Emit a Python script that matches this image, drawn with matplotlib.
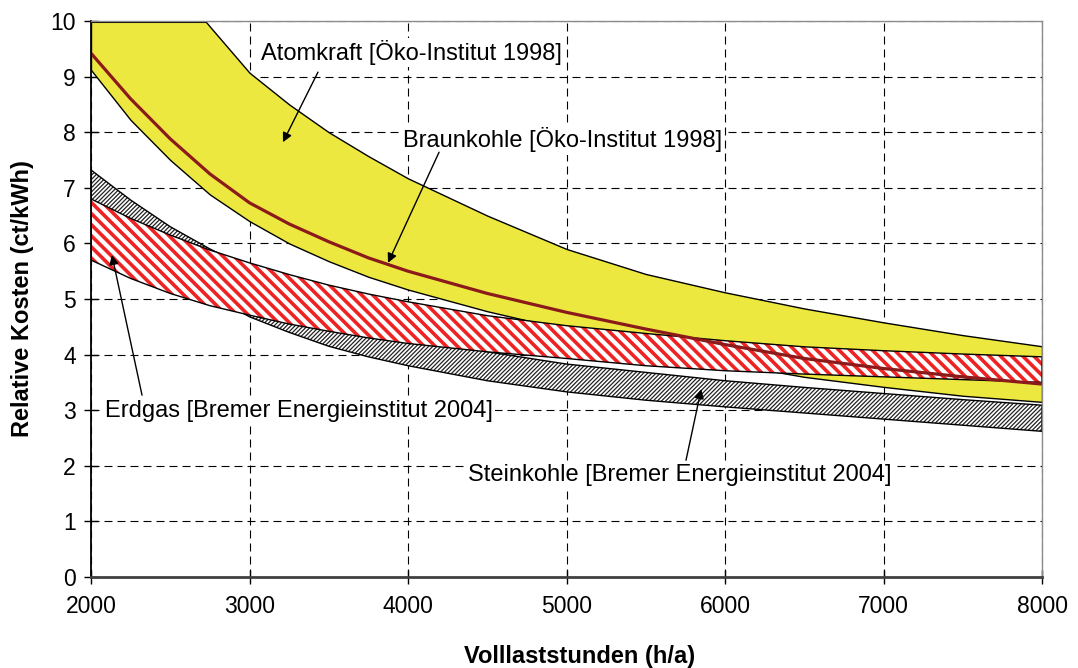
import matplotlib
matplotlib.use("Agg")
import matplotlib as mpl
import matplotlib.pyplot as plt
import numpy as np

plt.rcParams['font.family'] = ['Liberation Sans', 'DejaVu Sans']

# ---- data ----
hours = [2000, 2250, 2500, 2750, 3000, 3250, 3500, 3750, 4000,
         4500, 5000, 5500, 6000, 6500, 7000, 7500, 8000]
atom_upper = [13.0, 11.9, 10.75, 9.9, 9.07, 8.5, 8.0, 7.57, 7.17,
              6.5, 5.9, 5.45, 5.12, 4.83, 4.58, 4.35, 4.15]
atom_lower = [9.12, 8.22, 7.5, 6.88, 6.4, 6.0, 5.68, 5.4, 5.17,
              4.78, 4.45, 4.15, 3.85, 3.6, 3.42, 3.26, 3.15]
braunkohle = [9.42, 8.6, 7.88, 7.25, 6.73, 6.35, 6.03, 5.74, 5.5,
              5.1, 4.76, 4.46, 4.18, 3.93, 3.75, 3.6, 3.47]
erdgas_upper = [6.8, 6.45, 6.15, 5.88, 5.65, 5.44, 5.25, 5.09, 4.95,
                4.7, 4.52, 4.38, 4.25, 4.14, 4.07, 4.01, 3.96]
erdgas_lower = [5.70, 5.37, 5.1, 4.88, 4.71, 4.55, 4.42, 4.3, 4.2,
                4.05, 3.93, 3.8, 3.71, 3.65, 3.6, 3.55, 3.5]
stein_upper = [7.32, 6.78, 6.3, 5.9, 5.55, 5.23, 4.95, 4.69, 4.45,
               4.05, 3.83, 3.68, 3.53, 3.41, 3.3, 3.19, 3.09]
stein_lower = [6.8, 6.1, 5.55, 5.08, 4.68, 4.4, 4.15, 3.96, 3.8,
               3.53, 3.33, 3.18, 3.06, 2.95, 2.84, 2.73, 2.62]

x_ticks = [2000, 3000, 4000, 5000, 6000, 7000, 8000]
y_ticks = list(range(0, 11))

labels = {
    'atom': "Atomkraft [Öko-Institut 1998]",
    'braun': "Braunkohle [Öko-Institut 1998]",
    'erdgas': "Erdgas [Bremer Energieinstitut 2004]",
    'stein': "Steinkohle [Bremer Energieinstitut 2004]",
}

YELLOW = '#EDE840'
RED = '#EE2424'
DARKRED = '#8B1A1A'
FS_TXT = 17
FS_TICK = 16.5
FS_LAB = 17

fig = plt.figure(figsize=(10.78, 6.68), dpi=100)
ax = fig.add_axes([91/1078, 1 - 577/668, 951/1078, 556/668])

x = np.array(hours)

# Atomkraft band
yel = ax.fill_between(x, atom_lower, atom_upper, facecolor=YELLOW,
                      edgecolor='black', linewidth=1.0, zorder=2)
topline = ax.axhline(10, color='black', lw=2.2, zorder=2.1)
topline.set_clip_path(yel.get_paths()[0], yel.get_transform())

# Steinkohle band (grey hatch)
with mpl.rc_context({'hatch.linewidth': 0.9}):
    g = ax.fill_between(x, stein_lower, stein_upper, facecolor='white',
                        edgecolor='#222222', hatch='////////', linewidth=0, zorder=3)
    if hasattr(g, 'set_hatch_linewidth'):
        g.set_hatch_linewidth(0.9)
ax.fill_between(x, stein_lower, stein_upper, facecolor='none',
                edgecolor='black', linewidth=1.0, zorder=3.1)

# Erdgas band (red hatch)
with mpl.rc_context({'hatch.linewidth': 2.6}):
    r = ax.fill_between(x, erdgas_lower, erdgas_upper, facecolor='white',
                        edgecolor=RED, hatch='\\\\\\', linewidth=0, zorder=4)
    if hasattr(r, 'set_hatch_linewidth'):
        r.set_hatch_linewidth(2.6)
ax.fill_between(x, erdgas_lower, erdgas_upper, facecolor='none',
                edgecolor='black', linewidth=1.0, zorder=4.1)

# Braunkohle line
ax.plot(x, braunkohle, color=DARKRED, lw=2.3, zorder=5, solid_capstyle='butt',
        solid_joinstyle='round')

# axes
ax.set_xlim(2000, 8000)
ax.set_ylim(0, 10)
ax.set_xticks(x_ticks)
ax.set_yticks(y_ticks)
ax.set_axisbelow(True)
ax.grid(True, color='black', linewidth=0.8, linestyle=(0, (7.2, 4.5)))
ax.tick_params(direction='inout', length=10, width=1.0, labelsize=FS_TICK,
               colors='black')
ax.tick_params(axis='x', pad=8)
ax.tick_params(axis='y', pad=6)
for s in ['top', 'right']:
    ax.spines[s].set_color('#8C8C8C')
    ax.spines[s].set_linewidth(1.0)
ax.spines['left'].set_color('black')
ax.spines['left'].set_linewidth(1.3)
ax.spines['bottom'].set_color('#404040')
ax.spines['bottom'].set_linewidth(2.0)
for s in ax.spines.values():
    s.set_zorder(6)

ax.set_xlabel('Volllaststunden (h/a)', fontsize=FS_LAB, fontweight='bold')
ax.set_ylabel('Relative Kosten (ct/kWh)', fontsize=FS_LAB, fontweight='bold')
ax.xaxis.set_label_coords(0.514, -0.122)
ax.yaxis.set_label_coords(-0.060, 0.5)

# annotations
box = dict(facecolor='white', edgecolor='none', pad=1.5)
ax.text(3073, 9.44, labels['atom'], fontsize=FS_TXT, ha='left', va='center', bbox=box, zorder=7)
ax.text(3968, 7.86, labels['braun'], fontsize=FS_TXT, ha='left', va='center', bbox=box, zorder=7)
ax.text(2088, 2.99, labels['erdgas'], fontsize=FS_TXT, ha='left', va='center', bbox=box, zorder=7)
ax.text(4379, 1.83, labels['stein'], fontsize=FS_TXT, ha='left', va='center', bbox=box, zorder=7)

ap = dict(arrowstyle='-|>', color='black', lw=1.0, mutation_scale=14,
          shrinkA=0, shrinkB=0)
ax.annotate('', xy=(3211, 7.82), xytext=(3432, 9.08), arrowprops=ap, zorder=8)
ax.annotate('', xy=(3874, 5.65), xytext=(4196, 7.64), arrowprops=ap, zorder=8)
ax.annotate('', xy=(2132, 5.79), xytext=(2322, 3.27), arrowprops=ap, zorder=8)
ax.annotate('', xy=(5850, 3.38), xytext=(5754, 2.1), arrowprops=ap, zorder=8)

fig.savefig('out.png', dpi=100)
